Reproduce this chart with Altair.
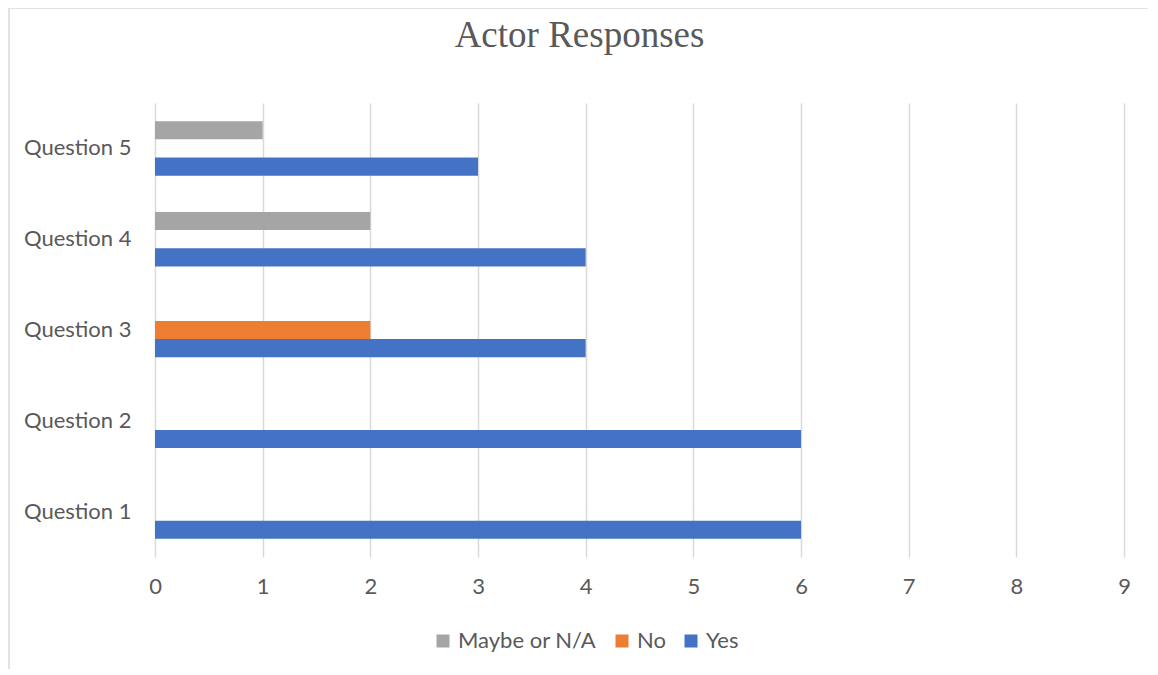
import altair as alt
import pandas as pd

questions = ["Question 1", "Question 2", "Question 3", "Question 4", "Question 5"]
yes_vals = [6, 6, 4, 4, 3]
no_vals = [0, 0, 2, 0, 0]
maybe_vals = [0, 0, 0, 2, 1]
series = ["Maybe or N/A", "No", "Yes"]
colors = ["#A5A5A5", "#ED7D31", "#4472C4"]
x_ticks = [0, 1, 2, 3, 4, 5, 6, 7, 8, 9]

rows = []
for q, y, n, m in zip(questions, yes_vals, no_vals, maybe_vals):
    rows.append({"Question": q, "Response": "Yes", "Count": y})
    rows.append({"Question": q, "Response": "No", "Count": n})
    rows.append({"Question": q, "Response": "Maybe or N/A", "Count": m})
df = pd.DataFrame(rows)

FONT = "Lato"
GRAY = "#595959"
FS = 22

bars = alt.Chart(df).mark_bar().encode(
    x=alt.X("Count:Q",
            scale=alt.Scale(domain=[0, 9], nice=False),
            axis=alt.Axis(values=x_ticks, title=None, grid=True, gridColor="#D9D9D9",
                          gridWidth=1.5, domain=False, ticks=False, labelFont=FONT,
                          labelFontSize=FS, labelColor=GRAY, labelPadding=19,
                          labelFlush=False)),
    y=alt.Y("Question:N", sort=questions[::-1],
            scale=alt.Scale(paddingInner=0.4, paddingOuter=0.2),
            axis=alt.Axis(title=None, domain=False, ticks=False, labelFont=FONT,
                          labelFontSize=FS, labelColor=GRAY, labelPadding=24)),
    yOffset=alt.YOffset("Response:N", sort=series,
                        scale=alt.Scale(paddingInner=0, paddingOuter=0)),
    color=alt.Color("Response:N",
                    scale=alt.Scale(domain=series, range=colors),
                    legend=alt.Legend(title=None, orient="none", direction="horizontal",
                                      legendX=277, legendY=527, symbolType="square",
                                      symbolSize=169, symbolStrokeWidth=0,
                                      labelFont=FONT, labelFontSize=FS, labelColor=GRAY,
                                      columnPadding=14, labelOffset=4)),
)

border = alt.Chart(pd.DataFrame({"a": [0]})).mark_rect(
    fill=None, stroke="#D9D9D9", strokeWidth=1.5
).encode(
    x=alt.value(-146), x2=alt.value(1100),
    y=alt.value(-95), y2=alt.value(700)
)

chart = alt.layer(border, bars).properties(
    width=969,
    height=454,
    autosize=alt.AutoSizeParams(type="none"),
    padding={"left": 147, "top": 95, "right": 24, "bottom": 112},
    title=alt.TitleParams("Actor Responses", font="Liberation Serif", fontSize=37,
                          fontWeight="normal", color=GRAY, anchor="middle",
                          frame="group", dx=-60, offset=0, dy=48),
).configure_view(stroke=None)

chart.save("out.html", embed_options={"renderer": "svg", "actions": False})
